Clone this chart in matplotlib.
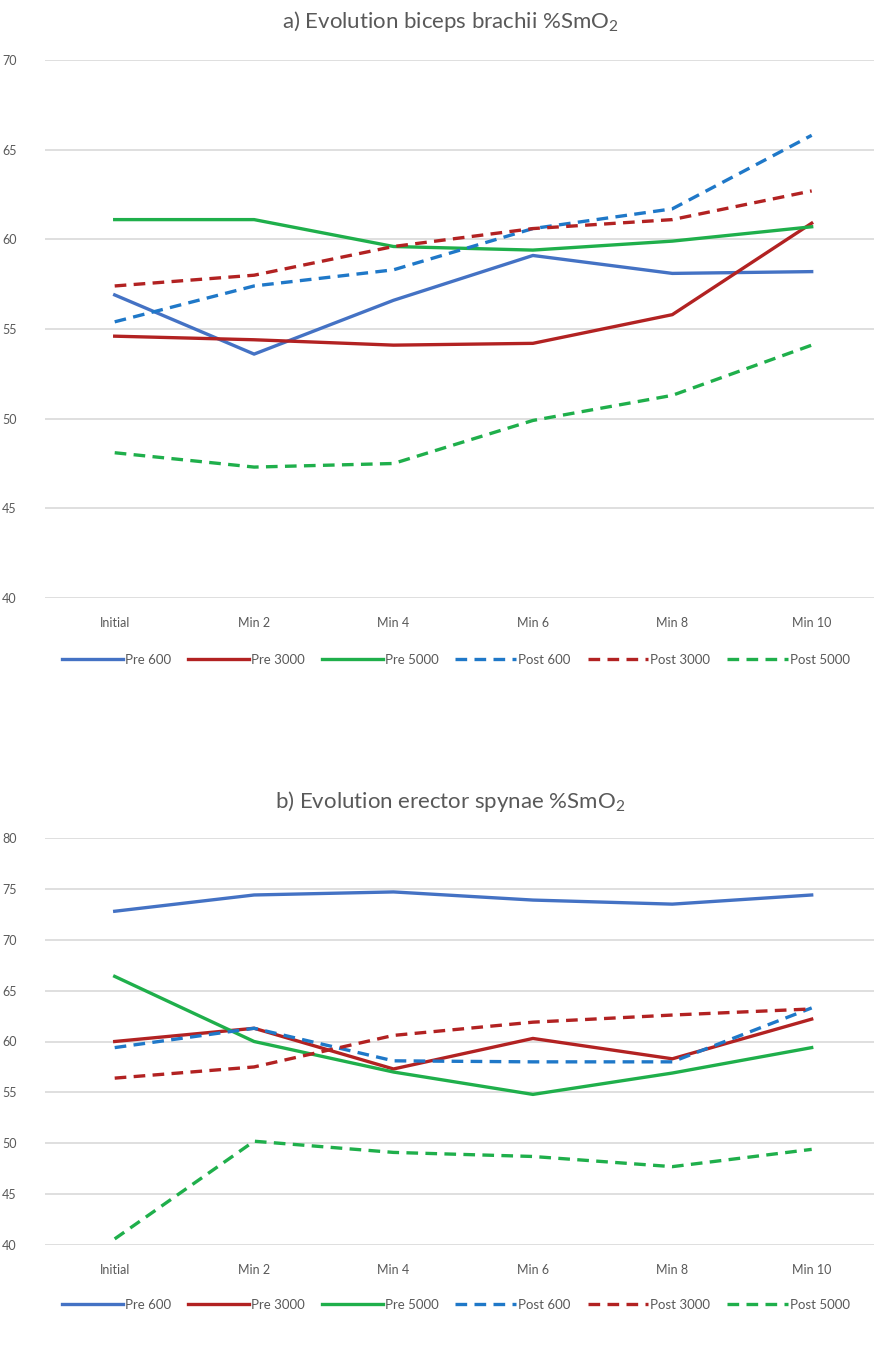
import matplotlib
matplotlib.use("Agg")
import matplotlib.pyplot as plt

plt.rcParams['font.family'] = ['Lato', 'DejaVu Sans']
plt.rcParams['mathtext.default'] = 'regular'

categories = ["Initial", "Min 2", "Min 4", "Min 6", "Min 8", "Min 10"]
series_names = ["Pre 600", "Pre 3000", "Pre 5000", "Post 600", "Post 3000", "Post 5000"]

# a) biceps brachii
biceps_pre600 = [56.9, 53.6, 56.6, 59.1, 58.1, 58.2]
biceps_pre3000 = [54.6, 54.4, 54.1, 54.2, 55.8, 60.9]
biceps_pre5000 = [61.1, 61.1, 59.6, 59.4, 59.9, 60.7]
biceps_post600 = [55.4, 57.4, 58.3, 60.6, 61.7, 65.8]
biceps_post3000 = [57.4, 58.0, 59.6, 60.6, 61.1, 62.7]
biceps_post5000 = [48.1, 47.3, 47.5, 49.9, 51.3, 54.1]

# b) erector spynae
erector_pre600 = [72.8, 74.4, 74.7, 73.9, 73.5, 74.4]
erector_pre3000 = [60.0, 61.3, 57.3, 60.3, 58.3, 62.2]
erector_pre5000 = [66.4, 60.0, 57.0, 54.8, 56.9, 59.4]
erector_post600 = [59.4, 61.3, 58.1, 58.0, 58.0, 63.3]
erector_post3000 = [56.4, 57.5, 60.6, 61.9, 62.6, 63.2]
erector_post5000 = [40.6, 50.2, 49.1, 48.7, 47.7, 49.4]

colors = ['#4472C4', '#B22222', '#1FAF4B', '#1F78C8', '#B22222', '#1FAF4B']
styles = ['-', '-', '-', '--', '--', '--']
text_col = '#595959'

fig = plt.figure(figsize=(8.74, 13.6), dpi=100)


def draw_panel(rect, data, ylim, yticks, title, title_y, legend_y):
    ax = fig.add_axes(rect)
    x = range(len(categories))
    for vals, c, ls, name in zip(data, colors, styles, series_names):
        if ls == '--':
            ax.plot(x, vals, color=c, lw=2.4, ls=ls, dashes=(3.5, 2.2), label=name)
        else:
            ax.plot(x, vals, color=c, lw=2.4, label=name)
    ax.set_xlim(-0.5, 5.447)
    ax.set_ylim(*ylim)
    ax.set_yticks(yticks)
    ax.set_xticks(list(x))
    ax.set_xticklabels(categories)
    ax.tick_params(length=0, labelsize=9, colors=text_col, pad=14)
    ax.tick_params(axis='y', pad=-2)
    for lab in ax.get_yticklabels():
        lab.set_horizontalalignment('left')
        lab.set_x(-0.055)
    ax.grid(axis='y', color='#D9D9D9', lw=1.2)
    ax.set_axisbelow(True)
    for s in ax.spines.values():
        s.set_visible(False)
    fig.text(0.515, title_y, title, ha='center', va='center', fontsize=16, color=text_col)
    fig.legend(*ax.get_legend_handles_labels(), loc='center', bbox_to_anchor=(0.522, legend_y),
               ncol=6, frameon=False, fontsize=9.5, handlelength=4.6, handletextpad=0.15,
               columnspacing=1.3, labelcolor=text_col)
    return ax


draw_panel([45 / 874, 1 - 598 / 1360, 829 / 874, 538 / 1360],
           [biceps_pre600, biceps_pre3000, biceps_pre5000,
            biceps_post600, biceps_post3000, biceps_post5000],
           (40, 70), [40, 45, 50, 55, 60, 65, 70],
           "a) Evolution biceps brachii %SmO$_2$", 1 - 22 / 1360, 1 - 660 / 1360)

draw_panel([45 / 874, 1 - 1245 / 1360, 829 / 874, 407 / 1360],
           [erector_pre600, erector_pre3000, erector_pre5000,
            erector_post600, erector_post3000, erector_post5000],
           (40, 80), [40, 45, 50, 55, 60, 65, 70, 75, 80],
           "b) Evolution erector spynae %SmO$_2$", 1 - 802 / 1360, 1 - 1305 / 1360)

fig.savefig("out.png", dpi=100, facecolor='white')
